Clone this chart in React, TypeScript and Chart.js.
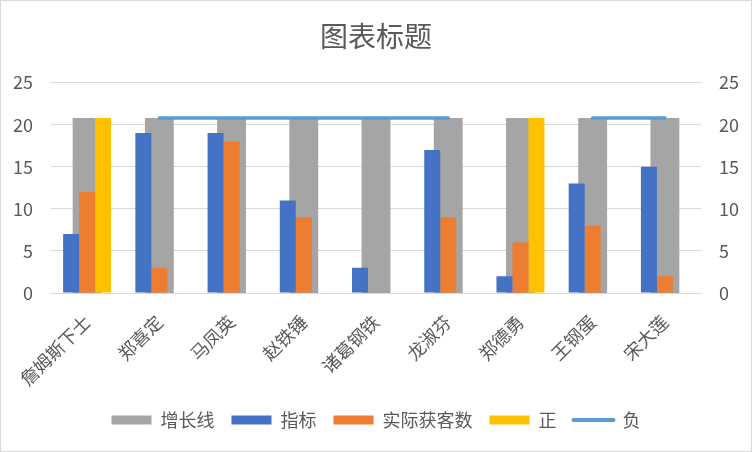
import React, { useEffect, useRef } from "react";
import { Chart, registerables } from "chart.js";

Chart.register(...registerables);

const categories = ["詹姆斯下士", "郑喜定", "马凤英", "赵铁锤", "诸葛钢铁", "龙淑芬", "郑德勇", "王钢蛋", "宋大莲"];
const growthLine = [20.8, 20.8, 20.8, 20.8, 20.8, 20.8, 20.8, 20.8, 20.8];
const target = [7, 19, 19, 11, 3, 17, 2, 13, 15];
const actual = [12, 3, 18, 9, 0, 9, 6, 8, 2];
const positive = [20.8, 0, 0, 0, 0, 0, 20.8, 0, 0];
const negative = [null, 20.8, 20.8, 20.8, 20.8, 20.8, null, 20.8, 20.8];
const yTicks = [0, 5, 10, 15, 20, 25];

const FONT = "'Noto Sans CJK SC', 'Noto Sans', sans-serif";
const TEXT = "#595959";

const framePlugin = {
  id: "frame",
  beforeDraw(chart: any) {
    const { ctx, width, height } = chart;
    ctx.save();
    ctx.fillStyle = "#ffffff";
    ctx.fillRect(0, 0, width, height);
    ctx.strokeStyle = "#D9D9D9";
    ctx.lineWidth = 1;
    ctx.strokeRect(0.5, 0.5, width - 1, height - 1);
    ctx.restore();
  },
};

export default function App() {
  const ref = useRef<HTMLCanvasElement | null>(null);

  useEffect(() => {
    if (!ref.current) return;
    Chart.defaults.font.family = FONT;
    const chart = new Chart(ref.current, {
      type: "bar",
      data: {
        labels: categories,
        datasets: [
          {
            label: "增长线",
            data: growthLine,
            backgroundColor: "#A5A5A5",
            xAxisID: "x",
            yAxisID: "y2",
            grouped: false,
            categoryPercentage: 0.4,
            barPercentage: 1,
            order: 3,
          } as any,
          {
            label: "指标",
            data: target,
            backgroundColor: "#4472C4",
            xAxisID: "x",
            yAxisID: "y",
            categoryPercentage: 0.664,
            barPercentage: 1,
            order: 2,
          },
          {
            label: "实际获客数",
            data: actual,
            backgroundColor: "#ED7D31",
            xAxisID: "x",
            yAxisID: "y",
            categoryPercentage: 0.664,
            barPercentage: 1,
            order: 2,
          },
          {
            label: "正",
            data: positive,
            backgroundColor: "#FFC000",
            xAxisID: "x",
            yAxisID: "y",
            categoryPercentage: 0.664,
            barPercentage: 1,
            order: 2,
          },
          {
            type: "line",
            label: "负",
            data: negative,
            borderColor: "#5B9BD5",
            backgroundColor: "#5B9BD5",
            borderWidth: 3.5,
            borderCapStyle: "round",
            pointRadius: 0,
            pointHoverRadius: 0,
            spanGaps: false,
            xAxisID: "x",
            yAxisID: "y",
            order: 0,
          } as any,
        ],
      },
      options: {
        responsive: false,
        animation: false,
        layout: { padding: { left: 0, right: 0, top: 0, bottom: 13 } },
        plugins: {
          tooltip: { enabled: false },
          title: {
            display: true,
            text: "图表标题",
            color: TEXT,
            font: { size: 28, weight: "normal", family: FONT },
            padding: { top: 20, bottom: 29 },
          },
          legend: {
            position: "bottom",
            labels: {
              color: TEXT,
              font: { size: 18, family: FONT },
              usePointStyle: true,
              pointStyleWidth: 40,
              boxWidth: 40,
              boxHeight: 9,
              padding: 17,
              sort: (a: any, b: any) => a.datasetIndex - b.datasetIndex,
              generateLabels: (chart: any) => {
                const items = Chart.defaults.plugins.legend.labels.generateLabels(chart);
                return items.map((it: any) => {
                  const ds = chart.data.datasets[it.datasetIndex];
                  if (ds.type === "line") {
                    return { ...it, pointStyle: "line", lineWidth: 4, strokeStyle: "#5B9BD5", lineCap: "round" };
                  }
                  return { ...it, pointStyle: "rect", lineWidth: 0 };
                });
              },
            },
          },
        },
        scales: {
          x: {
            type: "category",
            offset: true,
            grid: { display: false },
            border: { display: false },
            ticks: {
              color: TEXT,
              font: { size: 18, family: FONT },
              minRotation: 45,
              maxRotation: 45,
              autoSkip: false,
              padding: 10,
            },
            afterFit: (s: any) => {
              s.height = 101;
            },
          },
          y: {
            position: "left",
            min: 0,
            max: 25,
            afterBuildTicks: (s: any) => {
              s.ticks = yTicks.map((v) => ({ value: v }));
            },
            grid: { color: "#D9D9D9", lineWidth: 1, drawTicks: false },
            border: { display: false },
            ticks: { color: TEXT, font: { size: 18, family: FONT }, padding: 18 },
            afterFit: (s: any) => {
              s.width = 51;
            },
          },
          y2: {
            position: "right",
            min: 0,
            max: 25,
            afterBuildTicks: (s: any) => {
              s.ticks = yTicks.map((v) => ({ value: v }));
            },
            grid: { display: false, drawTicks: false },
            border: { display: false },
            ticks: { color: TEXT, font: { size: 18, family: FONT }, padding: 18 },
            afterFit: (s: any) => {
              s.width = 51;
            },
          },
        },
      } as any,
      plugins: [framePlugin],
    });
    return () => chart.destroy();
  }, []);

  return (
    <div style={{ position: "absolute", left: 0, top: 0, width: 752, height: 452 }}>
      <canvas ref={ref} width={752} height={452} style={{ width: 752, height: 452, display: "block" }} />
    </div>
  );
}
